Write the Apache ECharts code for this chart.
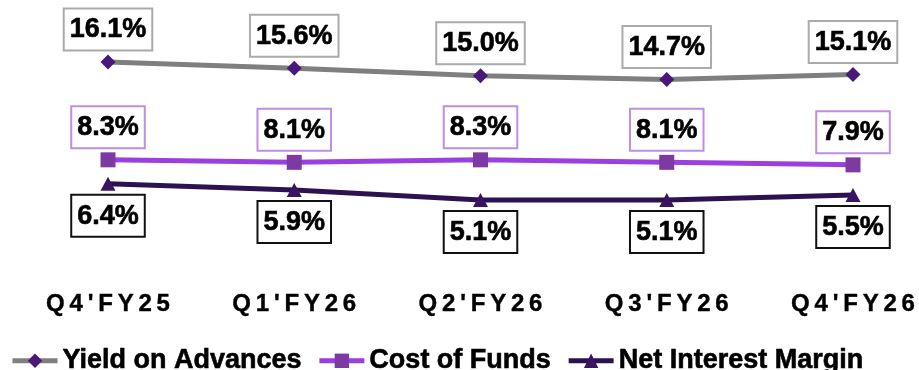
<!DOCTYPE html>
<html>
<head>
<meta charset="utf-8">
<script src="https://cdn.jsdelivr.net/npm/echarts@6/dist/echarts.min.js"></script>
<style>
  html, body { margin: 0; padding: 0; background: #fff; }
  #chart { width: 919px; height: 370px; }
</style>
</head>
<body>
<div id="chart"></div>
<script>
// Quarterly spread metrics (%)
const quarters = ["Q4'FY25", "Q1'FY26", "Q2'FY26", "Q3'FY26", "Q4'FY26"];
const yieldOnAdvances = [16.1, 15.6, 15.0, 14.7, 15.1];
const costOfFunds = [8.3, 8.1, 8.3, 8.1, 7.9];
const netInterestMargin = [6.4, 5.9, 5.1, 5.1, 5.5];

const FONT = '"Liberation Sans", Arial, Helvetica, sans-serif';

// Tracked-out quarter labels: thin spaces between characters
const spaced = s => s.split('').join('\u2009');

function boxLabel(position, borderColor) {
  return {
    show: true,
    position: position,
    distance: 5,
    formatter: p => p.value.toFixed(1) + '%',
    fontFamily: FONT,
    fontWeight: 'bold',
    fontSize: 27,
    lineHeight: 27,
    color: '#000',
    textBorderColor: '#000',
    textBorderWidth: 0.6,
    backgroundColor: '#fff',
    borderColor: borderColor,
    borderWidth: 2,
    padding: [7, 5, 6, 5]
  };
}

const chart = echarts.init(document.getElementById('chart'), null, { renderer: 'canvas' });
chart.setOption({
  animation: false,
  grid: { left: 108, right: 66, top: 13, bottom: 106, containLabel: false },
  legend: {
    left: 5,
    top: 342,
    itemWidth: 45,
    itemHeight: 18,
    itemGap: 15,
    lineStyle: { width: 5 },
    textStyle: {
      fontFamily: FONT, fontWeight: 'bold', fontSize: 27, color: '#000',
      textBorderColor: '#000', textBorderWidth: 0.6
    },
    data: ['Yield on Advances', 'Cost of Funds', 'Net Interest Margin']
  },
  xAxis: {
    type: 'category',
    data: quarters,
    boundaryGap: false,
    axisLine: { show: false },
    axisTick: { show: false },
    splitLine: { show: false },
    axisLabel: {
      margin: 28,
      formatter: v => spaced(v),
      fontFamily: FONT,
      fontWeight: 'bold',
      fontSize: 24,
      color: '#000',
      textBorderColor: '#000',
      textBorderWidth: 0.4
    }
  },
  yAxis: {
    type: 'value',
    min: 0,
    max: 20,
    show: false,
    splitLine: { show: false }
  },
  series: [
    {
      name: 'Yield on Advances',
      type: 'line',
      data: yieldOnAdvances,
      symbol: 'diamond',
      symbolSize: [15, 15],
      lineStyle: { color: '#7f7f7f', width: 5 },
      itemStyle: { color: '#4a1878' },
      label: boxLabel('top', '#ababab'),
      z: 3
    },
    {
      name: 'Cost of Funds',
      type: 'line',
      data: costOfFunds,
      symbol: 'rect',
      symbolSize: 15,
      lineStyle: { color: '#9b3fe0', width: 5 },
      itemStyle: { color: '#7d3aa3' },
      label: boxLabel('top', '#c08ee0'),
      z: 3
    },
    {
      name: 'Net Interest Margin',
      type: 'line',
      data: netInterestMargin,
      symbol: 'triangle',
      symbolSize: [15, 14],
      lineStyle: { color: '#2e1150', width: 5 },
      itemStyle: { color: '#381560' },
      label: boxLabel('bottom', '#111'),
      z: 3
    }
  ]
});
</script>
</body>
</html>
